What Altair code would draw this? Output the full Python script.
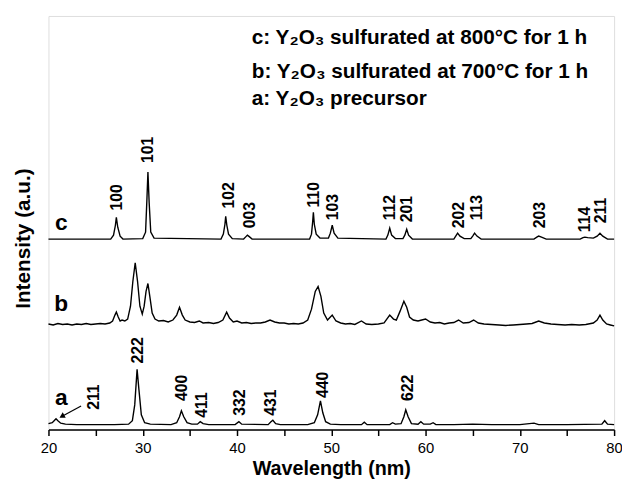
import altair as alt
import pandas as pd

FONT = "Liberation Sans"

# ---- traced curve c (sulfurated 800 C) ----
c_x = [20.0, 26.6, 26.9, 27.1, 27.2, 27.35, 27.6, 27.9, 30.0, 30.3, 30.45, 30.55, 30.68, 30.85, 31.2,
       38.3, 38.55, 38.72, 38.8, 38.92, 39.1, 39.5, 40.7, 40.95, 41.1, 41.3, 41.6,
       47.7, 47.9, 48.02, 48.1, 48.2, 48.4, 48.8, 49.7, 49.9, 50.1, 50.3, 50.7,
       55.8, 56.0, 56.2, 56.4, 56.8, 57.6, 57.8, 58.0, 58.2, 58.6,
       63.0, 63.2, 63.4, 63.65, 64.1, 64.8, 65.0, 65.2, 65.45, 65.9,
       71.5, 71.8, 72.0, 72.3, 72.8, 76.4, 76.7, 76.9, 77.2, 77.8, 78.2, 78.5, 78.8, 79.3, 80.0]
c_y = [193, 193, 197, 207, 215, 205, 196, 193, 193.5, 200, 235, 261, 230, 200, 194,
       193, 198, 208, 216, 207, 198, 193.5, 193, 195.5, 197, 195.5, 193,
       193, 198, 210, 220, 208, 198, 194, 194, 199, 207, 199, 194,
       193, 197, 204, 197, 193.5, 193.5, 197, 203, 197, 193,
       193, 196, 199, 196, 193.5, 193.5, 196, 199, 196, 193,
       193, 195, 196, 195, 193, 193, 194.5, 195, 194.5, 194, 196, 199, 196, 193, 193]

# ---- traced curve b (sulfurated 700 C) ----
b_x = [20.0, 20.5, 21.0, 21.5, 22.0, 22.5, 23.0, 23.5, 24.0, 24.5, 25.0, 25.5, 26.0, 26.5, 26.8,
       27.05, 27.2, 27.4, 27.6, 27.8, 28.1, 28.4, 28.7, 28.95, 29.2, 29.45, 29.7, 29.95, 30.15,
       30.35, 30.55, 30.75, 31.0, 31.3, 31.7, 32.2, 32.7, 33.2, 33.6, 33.9, 34.2, 34.5, 35.0,
       35.5, 36.0, 36.4, 37.0, 37.5, 38.0, 38.5, 38.9, 39.2, 39.6, 40.0, 40.5, 41.0, 41.5, 42.0,
       42.5, 43.0, 43.5, 44.0, 44.5, 45.0, 45.5, 46.0, 46.5, 47.0, 47.5, 47.9, 48.3, 48.6, 48.9,
       49.2, 49.6, 50.1, 50.5, 51.0, 51.5, 52.0, 52.5, 53.2, 53.7, 54.3, 55.0, 55.6, 56.2, 56.6,
       56.9, 57.3, 57.7, 58.0, 58.3, 58.7, 59.2, 59.6, 60.0, 60.5, 61.0, 61.5, 62.0, 62.5, 63.0,
       63.5, 64.0, 64.6, 65.1, 65.6, 66.2, 67.0, 67.8, 68.5, 69.3, 70.0, 70.7, 71.3, 72.0, 72.6,
       73.3, 74.0, 74.8, 75.5, 76.3, 77.0, 77.8, 78.2, 78.5, 78.8, 79.2, 79.6, 80.0]
b_y = [107, 106, 107.5, 106.5, 107, 106, 107, 106.5, 107.5, 106.5, 107, 107.5, 107, 108, 110,
       116, 119, 114, 110, 111, 110, 112, 125, 150, 169, 150, 125, 117, 125,
       140, 148, 135, 118, 112, 110, 110.5, 109, 111, 116, 124, 116, 111, 109,
       108.5, 110, 108, 108.5, 107.5, 108.5, 111, 119, 113, 109, 110, 108, 108.5, 107.5, 108,
       108, 109, 111, 109, 108, 108, 107, 107.5, 107, 108, 111, 122, 140, 145, 135,
       118, 111, 116, 110, 108, 107, 107.5, 106.5, 110, 107, 106.5, 107, 108, 116, 112,
       111, 120, 130, 124, 114, 111, 110, 111, 112, 109, 108, 108.5, 107, 108, 108.5,
       111, 108, 108.5, 111, 108, 107, 106.5, 106, 105.5, 106, 106.5, 107, 107.5, 110, 108,
       107, 106.5, 106, 106.5, 106, 106.5, 108, 111, 116, 111, 107, 106, 105]

# ---- traced curve a (Y2O3 precursor) ----
a_x = [20.0, 20.4, 20.6, 20.8, 21.0, 21.3, 21.8, 23.0, 25.0, 27.0, 28.5, 28.9, 29.15, 29.4, 29.6,
       29.85, 30.2, 30.8, 33.0, 33.6, 33.9, 34.1, 34.35, 34.7, 35.2, 35.8, 36.1, 36.4, 37.0,
       39.8, 40.2, 40.5, 43.3, 43.6, 43.8, 44.1, 44.6, 47.5, 48.2, 48.55, 48.85, 49.1, 49.4,
       49.9, 51.0, 53.2, 53.5, 53.8, 56.2, 56.5, 56.8, 57.4, 57.7, 57.9, 58.15, 58.5, 59.2,
       59.5, 59.8, 60.5, 60.8, 61.1, 63.0, 65.0, 67.0, 70.0, 71.5, 72.0, 75.0, 78.7, 79.0,
       79.3, 80.0]
a_y = [6, 7, 9, 11, 9, 6.5, 5.5, 5, 5, 5, 5.5, 9, 25, 61, 40,
       15, 7, 5.5, 5, 7, 13, 19, 13, 7, 5.5, 5.5, 8, 6, 5,
       5, 8, 5.5, 5, 8, 9.5, 6, 5, 5, 7, 15, 29, 17, 8,
       5.5, 5, 5, 7.5, 5, 5, 7, 5.5, 6, 13, 20, 13, 6, 5.5,
       8, 5.5, 5.5, 7, 5, 5, 5.5, 5, 5, 6.5, 5, 5, 5.5, 9,
       5.5, 5]

# ---- peak labels ----
c_lab = ["100", "101", "102", "003", "110", "103", "112", "201", "202", "113", "203", "114", "211"]
c_lab_x = [27.23, 30.58, 39.16, 41.36, 48.17, 50.16, 56.23, 58.01, 63.56, 65.45, 72.15, 76.96, 78.64]
c_lab_y = [222, 270, 224, 204, 225, 212, 212, 210, 204, 212, 204, 200, 209]

a_lab = ["211", "222", "400", "411", "332", "431", "440", "622"]
a_lab_x = [24.82, 29.53, 34.14, 36.34, 40.31, 43.66, 49.11, 58.12]
a_lab_y = [20, 67, 29, 12, 14, 14, 32, 29]

# ---- curve letters ----
letters = ["c", "b", "a"]
letter_x = [21.35, 21.35, 21.35]
letter_y = [202, 120, 25]

# ---- legend text ----
legend_lines = ["c: Y\u2082O\u2083 sulfurated at 800\u00b0C for 1 h",
                "b: Y\u2082O\u2083 sulfurated at 700\u00b0C for 1 h",
                "a: Y\u2082O\u2083 precursor"]
legend_x = [41.57, 41.57, 41.57]
legend_y = [391, 356, 328.5]

# ---- arrow to the a(211) peak ----
arrow_x, arrow_y, arrow_x2, arrow_y2 = [23.46], [24], [21.55], [14]
head_x, head_y = [21.42], [13.4]

frames = []
for name, xs, ys in [("c", c_x, c_y), ("b", b_x, b_y), ("a", a_x, a_y)]:
    frames.append(pd.DataFrame({"x": xs, "y": ys, "s": name, "i": range(len(xs))}))
curves = pd.concat(frames, ignore_index=True)

labels = pd.concat([
    pd.DataFrame({"x": c_lab_x, "y": c_lab_y, "t": c_lab}),
    pd.DataFrame({"x": a_lab_x, "y": a_lab_y, "t": a_lab}),
], ignore_index=True)
letters_df = pd.DataFrame({"x": letter_x, "y": letter_y, "t": letters})
legend_df = pd.DataFrame({"x": legend_x, "y": legend_y, "t": legend_lines})
arrow_df = pd.DataFrame({"x": arrow_x, "y": arrow_y, "x2": arrow_x2, "y2": arrow_y2})
head_df = pd.DataFrame({"x": head_x, "y": head_y})

X = alt.X("x:Q", title="Wavelength (nm)",
          scale=alt.Scale(domain=[20, 80], nice=False, zero=False),
          axis=alt.Axis(values=list(range(20, 81, 5)),
                        labelExpr="datum.value % 10 == 0 ? datum.label : ''",
                        grid=False, tickSize=6, tickWidth=1.5, tickColor="black",
                        domainColor="black", domainWidth=1.5,
                        labelFont=FONT, labelFontSize=15, labelColor="black",
                        labelPadding=5, labelFlush=False,
                        titleFont=FONT, titleFontSize=20, titleFontWeight="bold",
                        titleColor="black", titleBaseline="alphabetic", titleY=46))
Y = alt.Y("y:Q", title="Intensity (a.u.)",
          scale=alt.Scale(domain=[0, 419], nice=False, zero=False),
          axis=alt.Axis(labels=False, ticks=False, domain=False, grid=False,
                        titleFont=FONT, titleFontSize=21, titleFontWeight="bold",
                        titleColor="black", titleAngle=270, titleAlign="center",
                        titleBaseline="alphabetic", titleX=-19, titleY=225))

lines = alt.Chart(curves).mark_line(color="black", strokeWidth=1.4).encode(
    x=X, y=Y, detail="s:N", order="i:Q")

peak_text = alt.Chart(labels).mark_text(
    angle=270, align="left", baseline="middle", font=FONT, fontSize=16,
    fontWeight="bold", color="black").encode(x=X, y=Y, text="t:N")

letter_text = alt.Chart(letters_df).mark_text(
    align="center", baseline="alphabetic", font=FONT, fontSize=23,
    fontWeight="bold", color="black").encode(x=X, y=Y, text="t:N")

legend_text = alt.Chart(legend_df).mark_text(
    align="left", baseline="alphabetic", font=FONT, fontSize=21,
    fontWeight="bold", color="black").encode(x=X, y=Y, text="t:N")

arrow = alt.Chart(arrow_df).mark_rule(color="black", strokeWidth=1.2).encode(
    x=X, y=Y, x2="x2:Q", y2="y2:Q")

head = alt.Chart(head_df).mark_point(
    shape="triangle-up", filled=True, color="black", size=40, angle=241, opacity=1).encode(x=X, y=Y)

chart = alt.layer(lines, peak_text, letter_text, legend_text, arrow, head).properties(
    width=573, height=419,
    padding={"left": 41, "top": 5, "right": 8, "bottom": 50},
    autosize=alt.AutoSizeParams(type="none"),
).configure_view(stroke="black", strokeWidth=1.5).configure(background="white")

chart.save("out.html", embed_options={"renderer": "svg", "actions": False})
